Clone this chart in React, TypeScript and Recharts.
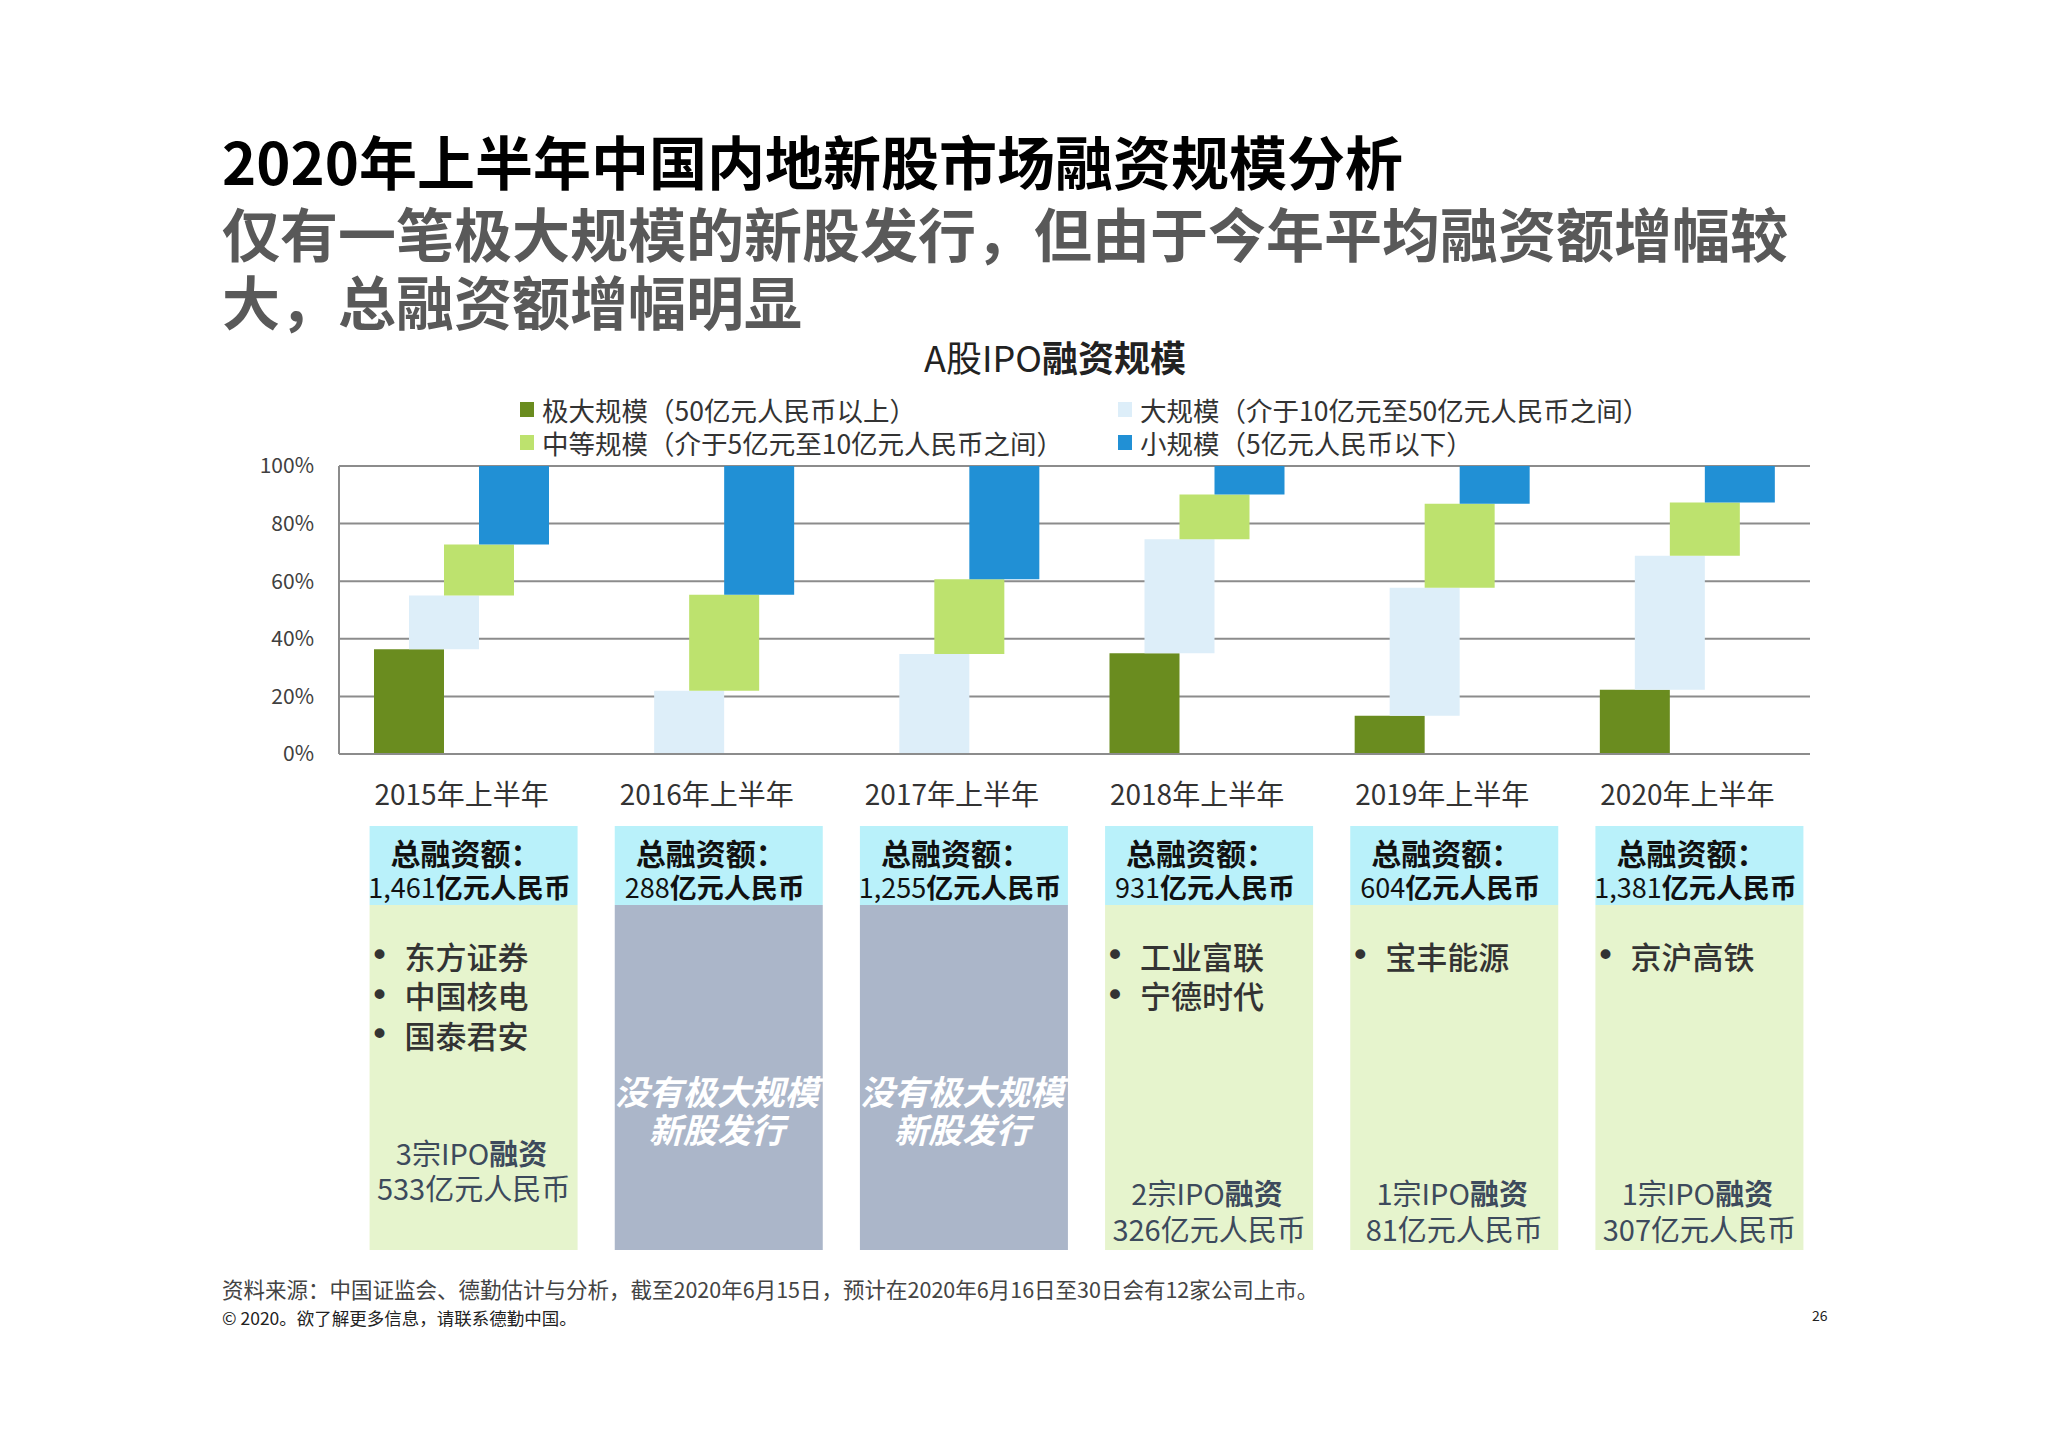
import { BarChart, Bar, XAxis, YAxis, CartesianGrid, Legend } from 'recharts';

const FONT = '"Liberation Sans Narrow", "Noto Sans CJK SC", sans-serif';

const periods = ['2015年上半年', '2016年上半年', '2017年上半年', '2018年上半年', '2019年上半年', '2020年上半年'];

const seriesNames = [
  '极大规模（50亿元人民币以上）',
  '大规模（介于10亿元至50亿元人民币之间）',
  '中等规模（介于5亿元至10亿元人民币之间）',
  '小规模（5亿元人民币以下）',
];

// share of total IPO proceeds by deal size, %
const megaShare = [36.4, 0, 0, 35.0, 13.3, 22.3];
const largeShare = [18.6, 22.0, 34.7, 39.6, 44.4, 46.5];
const midShare = [17.7, 33.3, 26.0, 15.5, 29.2, 18.5];
const smallShare = [27.3, 44.7, 39.3, 9.9, 13.1, 12.7];

const yTicks = [0, 20, 40, 60, 80, 100];

const totals = ['1,461', '288', '1,255', '931', '604', '1,381'];
const megaDeals = [['东方证券', '中国核电', '国泰君安'], [], [], ['工业富联', '宁德时代'], ['宝丰能源'], ['京沪高铁']];
const megaCount = [3, 0, 0, 2, 1, 1];
const megaAmount = ['533', '', '', '326', '81', '307'];

const data = periods.map((period, i) => {
  const a = megaShare[i];
  const b = a + largeShare[i];
  const c = b + midShare[i];
  const d = c + smallShare[i];
  return { period, mega: [0, a], large: [a, b], mid: [b, c], small: [c, d] };
});

function PeriodTick(props: any) {
  const { x, y, payload } = props;
  const i = periods.indexOf(payload.value);
  const cx = x + 12;
  const left = cx - 104;
  const none = megaDeals[i].length === 0;
  const sumY = i === 0 ? [398, 433] : [438, 474];
  return (
    <g fontFamily={FONT}>
      <text x={x} y={y + 39} textAnchor="middle" dominantBaseline="central" fontSize={28} fill="#333">
        {payload.value}
      </text>
      <rect x={left} y={y + 72} width={208} height={79} fill="#b9f1fa" />
      <rect x={left} y={y + 151} width={208} height={345} fill={none ? '#abb6c9' : '#e6f4cd'} />
      <text x={x + 4} y={y + 98} textAnchor="middle" dominantBaseline="central" fontSize={30} fontWeight="bold" fill="#111">
        总融资额：
      </text>
      <text x={x + 8} y={y + 132} textAnchor="middle" dominantBaseline="central" fontSize={27} fill="#111">
        <tspan>{totals[i]}</tspan>
        <tspan fontWeight={600}>亿元人民币</tspan>
      </text>
      {megaDeals[i].map((name, k) => (
        <g key={name}>
          <text x={left + 10} y={y + 201 + k * 39.5} textAnchor="middle" dominantBaseline="central" fontSize={34} fontFamily="DejaVu Sans" fill="#333">•</text>
          <text x={left + 35} y={y + 201 + k * 39.5} dominantBaseline="central" fontSize={31} fontWeight={500} fill="#333">
            {name}
          </text>
        </g>
      ))}
      {none ? (
        <g fill="#fff" fontSize={34} fontWeight="bold" fontStyle="italic">
          <text x={cx - 2} y={y + 336} textAnchor="middle" dominantBaseline="central">没有极大规模</text>
          <text x={cx - 2} y={y + 374} textAnchor="middle" dominantBaseline="central">新股发行</text>
        </g>
      ) : (
        <g fill="#3d4a5c" fontSize={29}>
          <text x={cx - 2} y={y + sumY[0]} textAnchor="middle" dominantBaseline="central">
            <tspan>{megaCount[i]}宗IPO</tspan>
            <tspan fontWeight="bold">融资</tspan>
          </text>
          <text x={cx} y={y + sumY[1]} textAnchor="middle" dominantBaseline="central">
            {megaAmount[i]}亿元人民币
          </text>
        </g>
      )}
    </g>
  );
}

function SizeLegend({ payload }: any) {
  const items = [...(payload || [])].sort((a: any, b: any) => seriesNames.indexOf(a.value) - seriesNames.indexOf(b.value));
  return (
    <div style={{ display: 'grid', gridTemplateColumns: '598px auto', fontFamily: FONT }}>
      {items.map((p: any) => (
        <div key={p.value} style={{ display: 'flex', alignItems: 'center', height: 33, fontSize: 26.5, color: '#333', whiteSpace: 'nowrap' }}>
          <span style={{ width: 14, height: 15, background: p.color, marginRight: 8, display: 'inline-block', flex: 'none' }} />
          {p.value}
        </div>
      ))}
    </div>
  );
}

const abs = (left: number, top: number, fontSize: number, extra: any = {}) => ({
  position: 'absolute' as const,
  left,
  top,
  fontSize,
  lineHeight: `${fontSize}px`,
  whiteSpace: 'nowrap' as const,
  ...extra,
});

export default function App() {
  return (
    <div style={{ position: 'absolute', left: 0, top: 0, width: 2048, height: 1447, background: '#fff', fontFamily: FONT, overflow: 'hidden' }}>
      <div style={{ position: 'absolute', left: 0, top: 0 }}>
        <BarChart width={2048} height={1447} data={data} margin={{ top: 466, right: 238, bottom: 663, left: 279 }} barSize={70} barGap={-35}>
          <CartesianGrid vertical={false} stroke="#8c8c8c" strokeWidth={2} />
          <XAxis
            dataKey="period"
            interval={0}
            tickSize={0}
            tickMargin={0}
            height={30}
            axisLine={{ stroke: '#8c8c8c', strokeWidth: 2 }}
            tickLine={false}
            tick={<PeriodTick />}
          />
          <YAxis
            width={60}
            domain={[0, 100]}
            ticks={yTicks}
            tickFormatter={(v: number) => `${v}%`}
            axisLine={{ stroke: '#8c8c8c', strokeWidth: 2 }}
            tickLine={false}
            tickMargin={19}
            tick={{ fontSize: 21, fill: '#404040', fontFamily: FONT }}
          />
          <Legend
            layout="horizontal"
            verticalAlign="middle"
            align="center"
            wrapperStyle={{ left: 520, top: 393, width: 1250 }}
            content={<SizeLegend />}
          />
          <Bar dataKey="mega" name={seriesNames[0]} fill="#6a8c1f" isAnimationActive={false} />
          <Bar dataKey="large" name={seriesNames[1]} fill="#ddeef9" isAnimationActive={false} />
          <Bar dataKey="mid" name={seriesNames[2]} fill="#bde26e" isAnimationActive={false} />
          <Bar dataKey="small" name={seriesNames[3]} fill="#2190d5" isAnimationActive={false} />
        </BarChart>
      </div>

      <div style={abs(222, 131, 58, { fontWeight: 'bold', color: '#000' })}>2020年上半年中国内地新股市场融资规模分析</div>
      <div style={abs(222, 198, 58, { fontWeight: 'bold', color: '#595959', lineHeight: '68px' })}>
        仅有一笔极大规模的新股发行，但由于今年平均融资额增幅较
        <br />
        大，总融资额增幅明显
      </div>
      <div style={abs(1055, 338, 36, { transform: 'translateX(-50%)', color: '#222' })}>
        A股IPO<span style={{ fontWeight: 'bold' }}>融资规模</span>
      </div>

      <div style={abs(222, 1278, 21.5, { color: '#444' })}>
        资料来源：中国证监会、德勤估计与分析，截至2020年6月15日，预计在2020年6月16日至30日会有12家公司上市。
      </div>
      <div style={abs(222, 1309, 17.5, { color: '#222' })}>© 2020。欲了解更多信息，请联系德勤中国。</div>
      <div style={abs(1812, 1308, 14, { color: '#222' })}>26</div>
    </div>
  );
}
